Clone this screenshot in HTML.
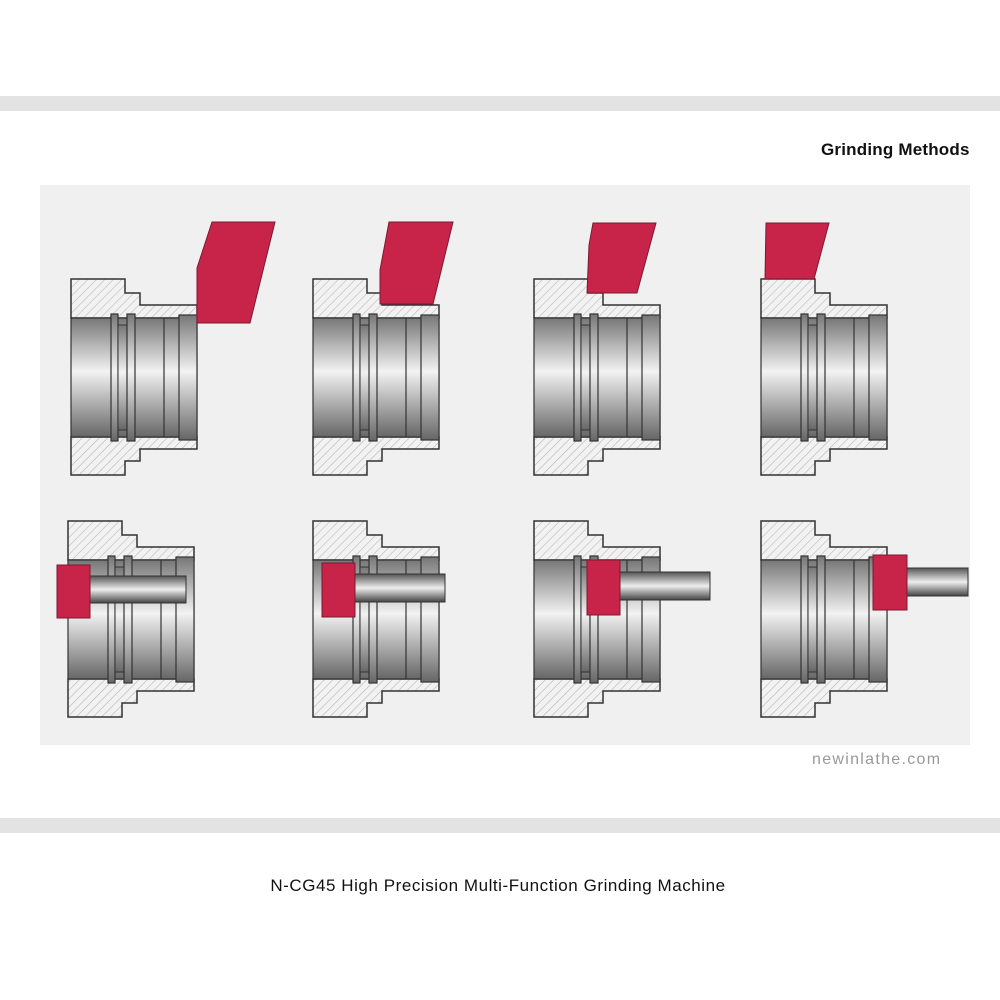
<!DOCTYPE html>
<html><head><style>
html,body{margin:0;padding:0;background:#fff;}
body{width:1000px;height:1000px;position:relative;overflow:hidden;font-family:"Liberation Sans",sans-serif;}
.bar{position:absolute;left:0;width:1000px;height:15px;background:#e3e3e3;}
</style></head><body>
<div class="bar" style="top:96px"></div>
<div class="bar" style="top:818px"></div>
<div style="position:absolute;left:821px;top:140px;font-size:17px;font-weight:bold;color:#111;letter-spacing:0.2px">Grinding Methods</div>
<div style="position:absolute;left:812px;top:751px;font-size:16px;color:#999;letter-spacing:1.3px">newinlathe.com</div>
<div style="position:absolute;left:0;width:996px;top:876px;text-align:center;font-size:17px;color:#111;letter-spacing:0.55px">N-CG45 High Precision Multi-Function Grinding Machine</div>
<svg width="1000" height="1000" style="position:absolute;left:0;top:0" xmlns="http://www.w3.org/2000/svg">
<defs>
<pattern id="h" width="6" height="6" patternUnits="userSpaceOnUse" patternTransform="rotate(45)">
<rect width="6" height="6" fill="#f2f2f2"/><line x1="0" y1="0" x2="0" y2="6" stroke="#b8b8b8" stroke-width="1.2"/>
</pattern>
<linearGradient id="g" x1="0" y1="0" x2="0" y2="1">
<stop offset="0" stop-color="#777"/><stop offset="0.45" stop-color="#f2f2f2"/><stop offset="1" stop-color="#666"/>
</linearGradient>
<linearGradient id="s" x1="0" y1="0" x2="0" y2="1">
<stop offset="0" stop-color="#555"/><stop offset="0.5" stop-color="#eee"/><stop offset="1" stop-color="#444"/>
</linearGradient>
<g id="part">
<path d="M0,0 H54 V14 H69 V26 H126 V39 H0 Z" fill="url(#h)" stroke="#333" stroke-width="1.5"/>
<path d="M0,196 H54 V182 H69 V170 H126 V158 H0 Z" fill="url(#h)" stroke="#333" stroke-width="1.5"/>
<rect x="0" y="39" width="126" height="119" fill="url(#g)" stroke="#333" stroke-width="1.2"/>
<rect x="40" y="35" width="7" height="127" fill="url(#g)" stroke="#333" stroke-width="1.2"/>
<rect x="47" y="46" width="9" height="105" fill="url(#g)" stroke="#333" stroke-width="1"/>
<rect x="56" y="35" width="8" height="127" fill="url(#g)" stroke="#333" stroke-width="1.2"/>
<line x1="93" y1="39" x2="93" y2="158" stroke="#333" stroke-width="1.2"/>
<rect x="108" y="36" width="18" height="125" fill="url(#g)" stroke="#333" stroke-width="1.2"/>
</g>
</defs>
<rect x="40" y="185" width="930" height="560" fill="#f0f0f0"/>
<use href="#part" x="71" y="279"/>
<use href="#part" x="313" y="279"/>
<use href="#part" x="534" y="279"/>
<use href="#part" x="761" y="279"/>
<use href="#part" x="68" y="521"/>
<use href="#part" x="313" y="521"/>
<use href="#part" x="534" y="521"/>
<use href="#part" x="761" y="521"/>
<g fill="#c8244a" stroke="#7a1a30" stroke-width="1">
<polygon points="212,222 275,222 250,323 197,323 197,268"/>
<polygon points="389,222 453,222 433,304 380,304 380,270"/>
<polygon points="593,223 656,223 637,293 587,293 589,245"/>
<polygon points="766,223 829,223 814,279 765,279"/>
</g>
<g stroke="#333" stroke-width="1">
<rect x="90" y="576" width="96" height="27" fill="url(#s)"/>
<rect x="355" y="574" width="90" height="28" fill="url(#s)"/>
<rect x="620" y="572" width="90" height="28" fill="url(#s)"/>
<rect x="907" y="568" width="61" height="28" fill="url(#s)"/>
</g>
<g fill="#c8244a" stroke="#7a1a30" stroke-width="1">
<rect x="57" y="565" width="33" height="53"/>
<rect x="322" y="563" width="33" height="54"/>
<rect x="587" y="560" width="33" height="55"/>
<rect x="873" y="555" width="34" height="55"/>
</g>
</svg>
</body></html>
